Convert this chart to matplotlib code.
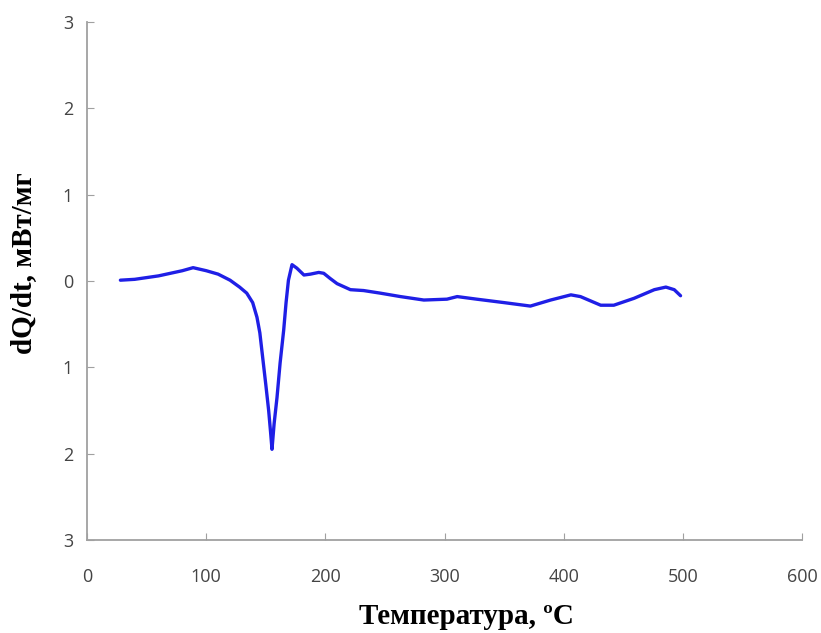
import numpy as np
import matplotlib
matplotlib.use("Agg")
import matplotlib.pyplot as plt

# DSC curve: heat flow vs temperature
temperature = [28, 40, 50, 60, 70, 80, 89, 100, 110, 120, 128, 134, 139, 142.6, 145, 148,
               150, 152.4, 154, 155.2, 157, 159.4, 162, 165, 167, 169, 172, 176, 182, 187.4,
               194.4, 198.6, 204, 209.8, 221, 232, 246, 263, 282.6, 302, 310.6, 327, 350,
               372, 389, 406, 414, 431, 442, 459, 476, 485.7, 492.7, 498]
heat_flow = [0.01, 0.02, 0.04, 0.06, 0.09, 0.12, 0.155, 0.12, 0.08, 0.01, -0.07, -0.14,
             -0.25, -0.42, -0.6, -0.96, -1.2, -1.5, -1.75, -1.95, -1.65, -1.35, -0.95, -0.57,
             -0.25, 0.01, 0.19, 0.15, 0.07, 0.08, 0.10, 0.09, 0.03, -0.03, -0.10, -0.11,
             -0.14, -0.18, -0.22, -0.21, -0.18, -0.21, -0.25, -0.29, -0.22, -0.16, -0.18,
             -0.28, -0.28, -0.20, -0.10, -0.07, -0.10, -0.17]

x_ticks = [0, 100, 200, 300, 400, 500, 600]
y_ticks = [-3, -2, -1, 0, 1, 2, 3]
y_tick_labels = ["3", "2", "1", "0", "1", "2", "3"]

fig = plt.figure(figsize=(8.21, 6.33), dpi=100)
ax = fig.add_axes([0.106, 0.147, 0.871, 0.818])

ax.plot(temperature, heat_flow, color="#1f1fe6", linewidth=2.4,
        solid_capstyle="round", solid_joinstyle="round")

ax.set_xlim(0, 600)
ax.set_ylim(-3, 3)
ax.set_xticks(x_ticks)
ax.set_yticks(y_ticks)
ax.set_yticklabels(y_tick_labels)

for side in ("top", "right"):
    ax.spines[side].set_visible(False)
for side in ("left", "bottom"):
    ax.spines[side].set_color("#a0a0a0")
    ax.spines[side].set_linewidth(1.3)

ax.tick_params(axis="both", direction="in", length=5, color="#a0a0a0",
               labelcolor="#444444", labelsize=13)
ax.tick_params(axis="y", pad=10)
ax.tick_params(axis="x", pad=20)
for lbl in ax.get_xticklabels() + ax.get_yticklabels():
    lbl.set_fontfamily("Open Sans")

fig.text(466 / 821, 1 - 617 / 633, "Температура, ºC", fontsize=21, fontweight="bold",
         family="Liberation Serif", ha="center", va="center")
fig.text(24 / 821, 1 - 263 / 633, "dQ/dt, мВт/мг", fontsize=21, fontweight="bold",
         family="Liberation Serif", ha="center", va="center", rotation=90)

fig.savefig("out.png", dpi=100)
